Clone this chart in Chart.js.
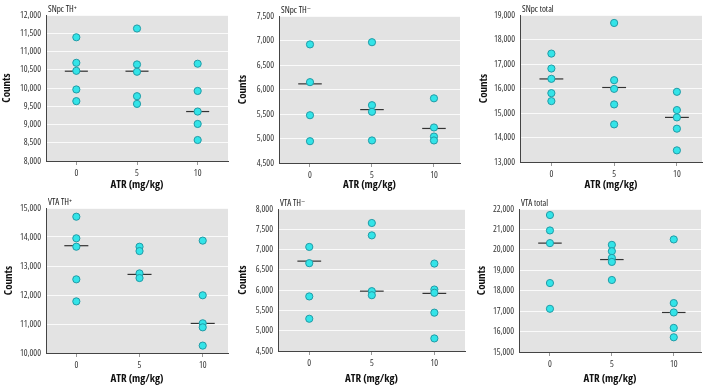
<!DOCTYPE html>
<html>
<head>
<meta charset="utf-8">
<script src="https://cdn.jsdelivr.net/npm/chart.js@4/dist/chart.umd.min.js"></script>
<style>
  body { margin: 0; background: #fff; }
  canvas { position: absolute; }
</style>
</head>
<body>
<script>
// doses on the x axis, one group of animals per dose
const doses = [0, 5, 10];
const doseTicks = [0, 5, 10];

const snpcPosValues = [
  [11390, 10690, 10470, 9960, 9640],
  [11630, 10645, 10445, 9775, 9565],
  [10665, 9920, 9355, 9015, 8575]
];
const snpcPosMedians = [10460, 10460, 9355];
const snpcPosTicks = [8000, 8500, 9000, 9500, 10000, 10500, 11000, 11500, 12000];

const snpcNegValues = [
  [6920, 6150, 5475, 4945],
  [6965, 5680, 5545, 4960],
  [5820, 5225, 5040, 4960]
];
const snpcNegMedians = [6115, 5590, 5205];
const snpcNegTicks = [4500, 5000, 5500, 6000, 6500, 7000, 7500];

const snpcTotalValues = [
  [17425, 16815, 16395, 15810, 15485],
  [18675, 16340, 15985, 15350, 14535],
  [15865, 15120, 14820, 14360, 13475]
];
const snpcTotalMedians = [16390, 16040, 14820];
const snpcTotalTicks = [13000, 14000, 15000, 16000, 17000, 18000, 19000];

const vtaPosValues = [
  [14700, 13955, 13665, 12540, 11780],
  [13665, 13515, 12745, 12585],
  [13875, 11990, 11025, 10885, 10255]
];
const vtaPosMedians = [13700, 12710, 11020];
const vtaPosTicks = [10000, 11000, 12000, 13000, 14000, 15000];

const vtaNegValues = [
  [7065, 6665, 5845, 5295],
  [7655, 7350, 5975, 5875],
  [6655, 6015, 5935, 5445, 4810]
];
const vtaNegMedians = [6715, 5975, 5920];
const vtaNegTicks = [4500, 5000, 5500, 6000, 6500, 7000, 7500, 8000];

const vtaTotalValues = [
  [21705, 20950, 20330, 18375, 17115],
  [20245, 19935, 19605, 19410, 18525],
  [20510, 17395, 16935, 16180, 15720]
];
const vtaTotalMedians = [20330, 19525, 16935];
const vtaTotalTicks = [15000, 16000, 17000, 18000, 19000, 20000, 21000, 22000];

// Open Sans is a variable font here, so "condensed" gives a narrow face
const fontFamily = "'Open Sans', 'DejaVu Sans Condensed', sans-serif";
const medianHalfWidth = 0.95;

// canvas position + chart area inside it
const panels = [
  { title: 'SNpc TH\u207A', values: snpcPosValues, medians: snpcPosMedians, yTicks: snpcPosTicks,
    xMin: -2.5, xMax: 12.5, box: { x: 0, y: 0, w: 236, h: 194, left: 46, top: 15, right: 228, bottom: 161, titlePad: 0 } },
  { title: 'SNpc TH\u207B', values: snpcNegValues, medians: snpcNegMedians, yTicks: snpcNegTicks,
    xMin: -2.5, xMax: 12.1, box: { x: 236, y: 0, w: 234, h: 194, left: 43, top: 16, right: 224, bottom: 163, titlePad: 0 } },
  { title: 'SNpc total', values: snpcTotalValues, medians: snpcTotalMedians, yTicks: snpcTotalTicks,
    xMin: -2.5, xMax: 12, box: { x: 470, y: 0, w: 237, h: 194, left: 50, top: 15, right: 232, bottom: 162, titlePad: 7 } },
  { title: 'VTA TH\u207A', values: vtaPosValues, medians: vtaPosMedians, yTicks: vtaPosTicks,
    xMin: -2.4, xMax: 12, box: { x: 0, y: 194, w: 236, h: 194, left: 46, top: 14, right: 228, bottom: 159, titlePad: 2 } },
  { title: 'VTA TH\u207B', values: vtaNegValues, medians: vtaNegMedians, yTicks: vtaNegTicks,
    xMin: -2.5, xMax: 12.45, box: { x: 236, y: 194, w: 234, h: 194, left: 42, top: 15, right: 230, bottom: 157, titlePad: 0 } },
  { title: 'VTA total', values: vtaTotalValues, medians: vtaTotalMedians, yTicks: vtaTotalTicks,
    xMin: -2.5, xMax: 12.2, box: { x: 470, y: 194, w: 237, h: 194, left: 49, top: 15, right: 231, bottom: 158, titlePad: 5 } }
];

const plotBackground = {
  id: 'plotBackground',
  beforeDraw(chart) {
    const { ctx, chartArea: a } = chart;
    ctx.save();
    ctx.fillStyle = '#e3e3e3';
    ctx.fillRect(a.left, a.top, a.width, a.height);
    ctx.restore();
  }
};

const panelLabel = {
  id: 'panelLabel',
  afterDraw(chart, args, opts) {
    const { ctx, chartArea: a } = chart;
    ctx.save();
    ctx.fillStyle = '#222';
    ctx.font = 'condensed 9px ' + fontFamily;
    ctx.textBaseline = 'alphabetic';
    ctx.textAlign = 'left';
    ctx.fillText(opts.text, a.left + 2, a.top - 3);
    ctx.restore();
  }
};

function makeChart(p) {
  const b = p.box;
  const canvas = document.createElement('canvas');
  canvas.width = b.w;
  canvas.height = b.h;
  canvas.style.left = b.x + 'px';
  canvas.style.top = b.y + 'px';
  document.body.appendChild(canvas);

  const points = [];
  doses.forEach((d, i) => p.values[i].forEach(v => points.push({ x: d, y: v })));

  const datasets = [{
    type: 'scatter',
    data: points,
    pointRadius: 3.6,
    backgroundColor: '#33e4e8',
    borderColor: '#229ba6',
    borderWidth: 1,
    order: 0
  }];
  doses.forEach((d, i) => {
    datasets.push({
      type: 'line',
      data: [{ x: d - medianHalfWidth, y: p.medians[i] }, { x: d + medianHalfWidth, y: p.medians[i] }],
      borderColor: '#333',
      borderWidth: 1.2,
      pointRadius: 0,
      order: 1
    });
  });

  new Chart(canvas, {
    type: 'scatter',
    data: { datasets },
    options: {
      responsive: false,
      animation: false,
      layout: { padding: { left: 0, top: b.top, right: b.w - b.right, bottom: 0 } },
      plugins: {
        legend: { display: false },
        tooltip: { enabled: false },
        panelLabel: { text: p.title }
      },
      scales: {
        x: {
          type: 'linear',
          min: p.xMin,
          max: p.xMax,
          afterBuildTicks: s => { s.ticks = doseTicks.map(v => ({ value: v })); },
          afterFit: s => { s.height = b.h - b.bottom; },
          grid: { drawOnChartArea: false, tickLength: 4, tickColor: '#999' },
          border: { color: '#444', width: 1 },
          ticks: { padding: 3, color: '#333', font: { family: fontFamily, size: 9, weight: 'condensed' } },
          title: {
            display: true, text: 'ATR (mg/kg)', color: '#111',
            font: { family: fontFamily, size: 11, weight: 'bold condensed' },
            padding: { top: 0, bottom: 3 }
          }
        },
        y: {
          min: p.yTicks[0],
          max: p.yTicks[p.yTicks.length - 1],
          afterBuildTicks: s => { s.ticks = p.yTicks.map(v => ({ value: v })); },
          afterFit: s => { s.width = b.left; },
          grid: { color: 'rgba(255,255,255,0.8)', drawTicks: false },
          border: { color: '#444', width: 1 },
          ticks: {
            padding: 5, color: '#333', font: { family: fontFamily, size: 9, weight: 'condensed' },
            callback: v => v.toLocaleString('en-US')
          },
          title: {
            display: true, text: 'Counts', color: '#111',
            font: { family: fontFamily, size: 11, weight: 'bold condensed' },
            padding: { top: b.titlePad, bottom: 0 }
          }
        }
      }
    },
    plugins: [plotBackground, panelLabel]
  });
}

panels.forEach(makeChart);
</script>
</body>
</html>
